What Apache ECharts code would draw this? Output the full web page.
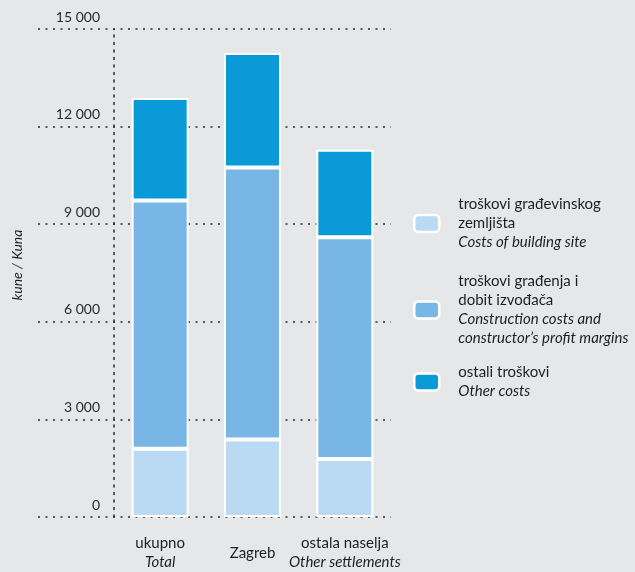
<!DOCTYPE html>
<html><head><meta charset="utf-8">
<script src="https://cdn.jsdelivr.net/npm/echarts@6/dist/echarts.min.js"></script>
<style>html,body{margin:0;padding:0;background:#e6e7e9}#c{width:635px;height:572px}</style>
</head><body><div id="c"></div>
<script>
const categories = ['ukupno\n{i|Total}', 'Zagreb', 'ostala naselja\n{i|Other settlements}'];
const siteCosts = [2100, 2380, 1780];
const constructionCosts = [7630, 8360, 6820];
const otherCosts = [3150, 3520, 2690];
const yTicks = [0, 3000, 6000, 9000, 12000, 15000];
const seriesNames = ['site', 'construction', 'other'];
const legendTexts = {
  site: 'troškovi građevinskog\nzemljišta\n{i|Costs of building site}',
  construction: 'troškovi građenja i\ndobit izvođača\n{i|Construction costs and}\n{i|constructor\u2019s profit margins}',
  other: 'ostali troškovi\n{i|Other costs}'
};
const colors = ['#bad9f2', '#78b7e5', '#0a9ad8'];
const FONT = 'Lato';

const chart = echarts.init(document.getElementById('c'), null, {renderer: 'canvas'});
const fmtNum = v => v === 0 ? '0' : String(v).replace(/\B(?=(\d{3})+(?!\d))/g, ' ');
const dotted = {color: '#2a2a2a', width: 1.5, type: [2, 5.5]};
const barStyle = c => ({color: c, borderColor: '#ffffff', borderWidth: 2});
const legendText = {fontSize: 15, fontFamily: FONT, color: '#1e1e1e', lineHeight: 19, padding: [0, 0, 0, 14],
  rich: {i: {fontStyle: 'italic', fontSize: 15, fontFamily: FONT, color: '#1e1e1e', lineHeight: 19}}};
const legendTops = [195, 272, 363];
const makeLegend = (n, k) => ({
  orient: 'vertical', left: 413, top: legendTops[k], padding: 0, itemWidth: 25, itemHeight: 17,
  data: [{name: n, itemStyle: {borderColor: '#ffffff', borderWidth: 2.5}}],
  formatter: x => legendTexts[x], selectedMode: false, textStyle: legendText
});

chart.setOption({
  backgroundColor: '#e6e7e9',
  animation: false,
  textStyle: {fontFamily: FONT},
  grid: [
    {left: 114, width: 277, top: 29, bottom: 55, containLabel: false},
    {left: 38, width: 353, top: 29, bottom: 55, containLabel: false}
  ],
  xAxis: [
    {type: 'category', gridIndex: 0, data: categories,
     axisLine: {show: false}, axisTick: {show: false},
     axisLabel: {interval: 0, margin: 36, verticalAlign: 'middle', color: '#1e1e1e', fontSize: 15, fontFamily: FONT, lineHeight: 19,
       rich: {i: {fontStyle: 'italic', fontSize: 15, fontFamily: FONT, lineHeight: 19, color: '#1e1e1e'}}}},
    {type: 'value', gridIndex: 1, min: 0, max: 1, show: false}
  ],
  yAxis: [
    {type: 'value', gridIndex: 0, min: 0, max: 15000, interval: 3000,
     axisLine: {show: true, lineStyle: dotted}, axisTick: {show: false},
     splitLine: {show: false},
     axisLabel: {margin: 14, verticalAlign: 'bottom', padding: [0, 0, 5, 0], color: '#2a2a2a', fontSize: 14, fontFamily: FONT,
       formatter: v => yTicks.includes(v) ? fmtNum(v) : ''}},
    {type: 'value', gridIndex: 1, min: 0, max: 15000, interval: 3000,
     axisLine: {show: false}, axisTick: {show: false}, axisLabel: {show: false},
     splitLine: {show: true, lineStyle: dotted},
     name: 'kune / Kuna', nameLocation: 'middle', nameGap: 14,
     nameTextStyle: {fontStyle: 'italic', fontSize: 14, fontFamily: FONT, color: '#1e1e1e', padding: [0, 0, 0, 16]}}
  ],
  legend: seriesNames.map(makeLegend),
  series: [
    {name: 'site', type: 'bar', stack: 's', barWidth: 57, data: siteCosts, itemStyle: barStyle(colors[0])},
    {name: 'construction', type: 'bar', stack: 's', barWidth: 57, data: constructionCosts, itemStyle: barStyle(colors[1])},
    {name: 'other', type: 'bar', stack: 's', barWidth: 57, data: otherCosts, itemStyle: barStyle(colors[2])}
  ]
});
</script></body></html>
